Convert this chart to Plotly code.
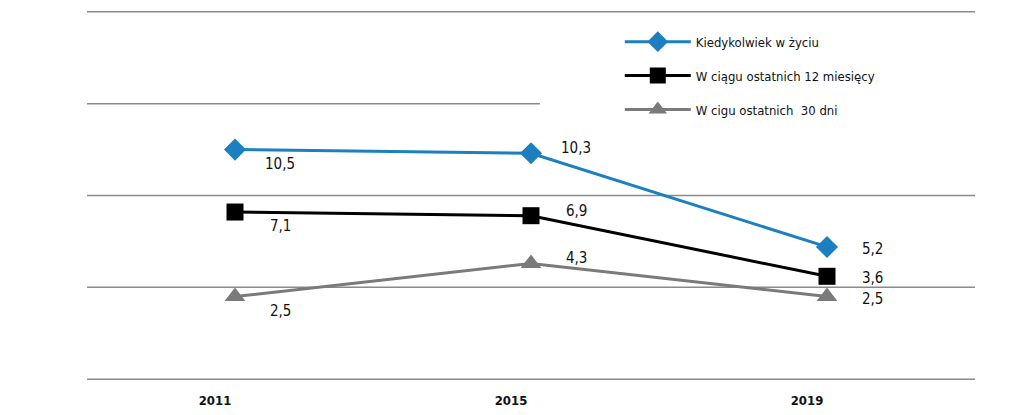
import plotly.graph_objects as go

years = ["2011", "2015", "2019"]
ever = [10.5, 10.3, 5.2]
last12 = [7.1, 6.9, 3.6]
last30 = [2.5, 4.3, 2.5]
names = ["Kiedykolwiek w życiu", "W ciągu ostatnich 12 miesięcy", "W cigu ostatnich  30 dni"]
grid_vals = [-2, 3, 8, 13, 18]

FONT = "DejaVu Sans Condensed, sans-serif"

series = [
    (ever, names[0], "#1b7fc0", "diamond", 17),
    (last12, names[1], "#000000", "square", 17),
    (last30, names[2], "#7a7a7a", "triangle-up", 18),
]

fig = go.Figure()
for i, (vals, nm, col, sym, sz) in enumerate(series):
    fig.add_trace(go.Scatter(
        x=years, y=vals, name=nm, mode="lines+markers",
        line=dict(color=col, width=3),
        marker=dict(symbol=sym, size=sz, color=col),
        legendgroup=f"g{i}",
        hoverinfo="skip",
    ))

yshifts = [-14, 5, -2]
annotations = []
for vals, *_ in series:
    for j, v in enumerate(vals):
        annotations.append(dict(
            x=j, y=v, xref="x", yref="y",
            text=f"{v:.1f}".replace(".", ","),
            showarrow=False, xanchor="center", yanchor="middle",
            xshift=45, yshift=yshifts[j],
            font=dict(family=FONT, size=15, color="#111111"),
        ))

shapes = []
for g in grid_vals:
    shapes.append(dict(
        type="line", xref="paper", yref="y",
        x0=0, x1=0.51 if g == 13 else 1, y0=g, y1=g,
        line=dict(color="#8a8a8a", width=1.5), layer="below",
    ))

fig.update_layout(
    width=1016, height=407,
    margin=dict(l=79, r=49, t=2, b=34),
    paper_bgcolor="white", plot_bgcolor="white",
    showlegend=True,
    legend=dict(
        x=0.6, y=0.955, xanchor="left", yanchor="top",
        font=dict(family=FONT, size=13, color="#111111"),
        bgcolor="rgba(0,0,0,0)", itemwidth=66, tracegroupgap=14,
    ),
    xaxis=dict(
        type="category", range=[-0.5, 2.5], showgrid=False, zeroline=False,
        showline=False, ticks="", ticklabelshift=-20, ticklabelstandoff=10,
        tickfont=dict(family=FONT, size=13, color="#111111", weight="bold"),
    ),
    yaxis=dict(
        range=[-2.1, 18.1], showgrid=False, zeroline=False,
        showticklabels=False, showline=False,
    ),
    annotations=annotations,
    shapes=shapes,
)

fig.write_html("out.html")
